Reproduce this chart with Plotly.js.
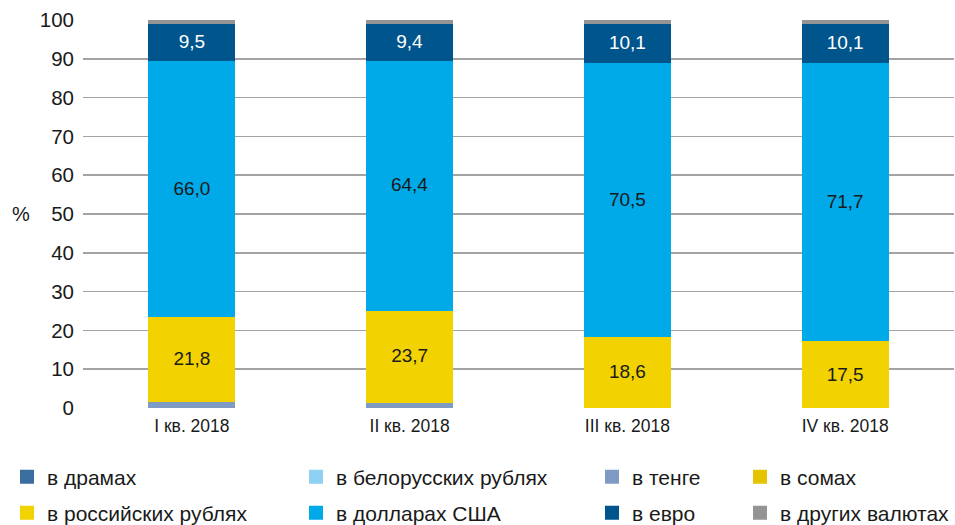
<!DOCTYPE html>
<html><head><meta charset="utf-8">
<script src="https://cdn.plot.ly/plotly-3.0.1.min.js"></script>
<style>html,body{margin:0;padding:0;background:#fff}#c{width:955px;height:525px}</style>
</head><body><div id="c"></div>
<script>
const categories = ['I кв. 2018', 'II кв. 2018', 'III кв. 2018', 'IV кв. 2018'];
const seriesNames = ['в драмах', 'в белорусских рублях', 'в тенге', 'в сомах',
                     'в российских рублях', 'в долларах США', 'в евро', 'в других валютах'];
const dram   = [0, 0, 0, 0];
const byr    = [0, 0, 0, 0];
const tenge  = [1.8, 1.6, 0, 0];
const som    = [0, 0, 0, 0];
const rub    = [21.8, 23.7, 18.6, 17.5];
const usd    = [66.0, 64.4, 70.5, 71.7];
const eur    = [9.5, 9.4, 10.1, 10.1];
const other  = [0.9, 0.9, 0.8, 0.7];
const yTicks = [0, 10, 20, 30, 40, 50, 60, 70, 80, 90, 100];

const colors = ['#3b6ea0', '#8fd1f5', '#7f9bc3', '#e6c300', '#f2d200', '#00a9e8', '#00568c', '#949494'];
const labelColors = [null, null, null, null, '#1a1a1a', '#1a1a1a', '#ffffff', null];
const stackOrder = [
  {idx: 0, data: dram}, {idx: 1, data: byr}, {idx: 2, data: tenge}, {idx: 3, data: som},
  {idx: 4, data: rub}, {idx: 5, data: usd}, {idx: 6, data: eur}, {idx: 7, data: other}
];
const W = 955, H = 525;
const M = {l: 83, r: 1, t: 20, b: 117, autoexpand: false};
const PW = W - M.l - M.r, PH = H - M.t - M.b;
const colText = [47, 336, 632, 780];
const rowY = [477, 513];

const FONT = 'Liberation Sans, Arial, sans-serif';
const traces = stackOrder.map(s => {
  const i = s.idx;
  const lbl = labelColors[i];
  return {
    type: 'bar', name: seriesNames[i], x: categories, y: s.data,
    marker: {color: colors[i], line: {width: 2, color: colors[i]}},
    texttemplate: lbl ? '%{y:.1f}' : '',
    textposition: lbl ? 'inside' : 'none',
    insidetextanchor: 'middle',
    textangle: 0,
    insidetextfont: {family: FONT, size: 19, color: lbl || '#000'},
    hoverinfo: 'skip',
    legend: i === 0 ? 'legend' : 'legend' + (i + 1)
  };
});

const layout = {
  width: W, height: H,
  paper_bgcolor: '#fff', plot_bgcolor: '#fff',
  separators: ', ',
  barmode: 'stack', bargap: 0.61,
  margin: M,
  showlegend: true,
  font: {family: FONT, color: '#1a1a1a'},
  xaxis: {
    type: 'category', showgrid: false, zeroline: false,
    showline: false, ticks: '', tickangle: 0, automargin: false,
    tickfont: {family: FONT, size: 17.5, color: '#1a1a1a'},
    ticklabelstandoff: 5
  },
  yaxis: {
    range: [0, 100], tickvals: yTicks, ticktext: yTicks.map(String),
    showgrid: true, gridcolor: '#a3a3a3', gridwidth: 1.5, automargin: false,
    zeroline: false, showline: false, ticks: '',
    tickfont: {family: FONT, size: 20.5, color: '#1a1a1a'},
    ticklabelstandoff: 8
  },
  annotations: [{
    text: '%', xref: 'paper', yref: 'paper', x: (21 - M.l) / PW, y: 0.5,
    xanchor: 'center', yanchor: 'middle', showarrow: false,
    font: {family: FONT, size: 20, color: '#1a1a1a'}
  }]
};

for (let i = 0; i < 8; i++) {
  const col = i % 4, row = Math.floor(i / 4);
  const key = i === 0 ? 'legend' : 'legend' + (i + 1);
  layout[key] = {
    xref: 'paper', yref: 'paper',
    x: (colText[col] - 40 - M.l) / PW, y: (M.t + PH - rowY[row]) / PH,
    xanchor: 'left', yanchor: 'middle',
    orientation: 'v', bgcolor: 'rgba(0,0,0,0)', borderwidth: 0,
    font: {family: FONT, size: 21, color: '#1a1a1a'},
    itemclick: false, itemdoubleclick: false
  };
}

Plotly.newPlot('c', traces, layout, {displayModeBar: false, staticPlot: true});
</script></body></html>
